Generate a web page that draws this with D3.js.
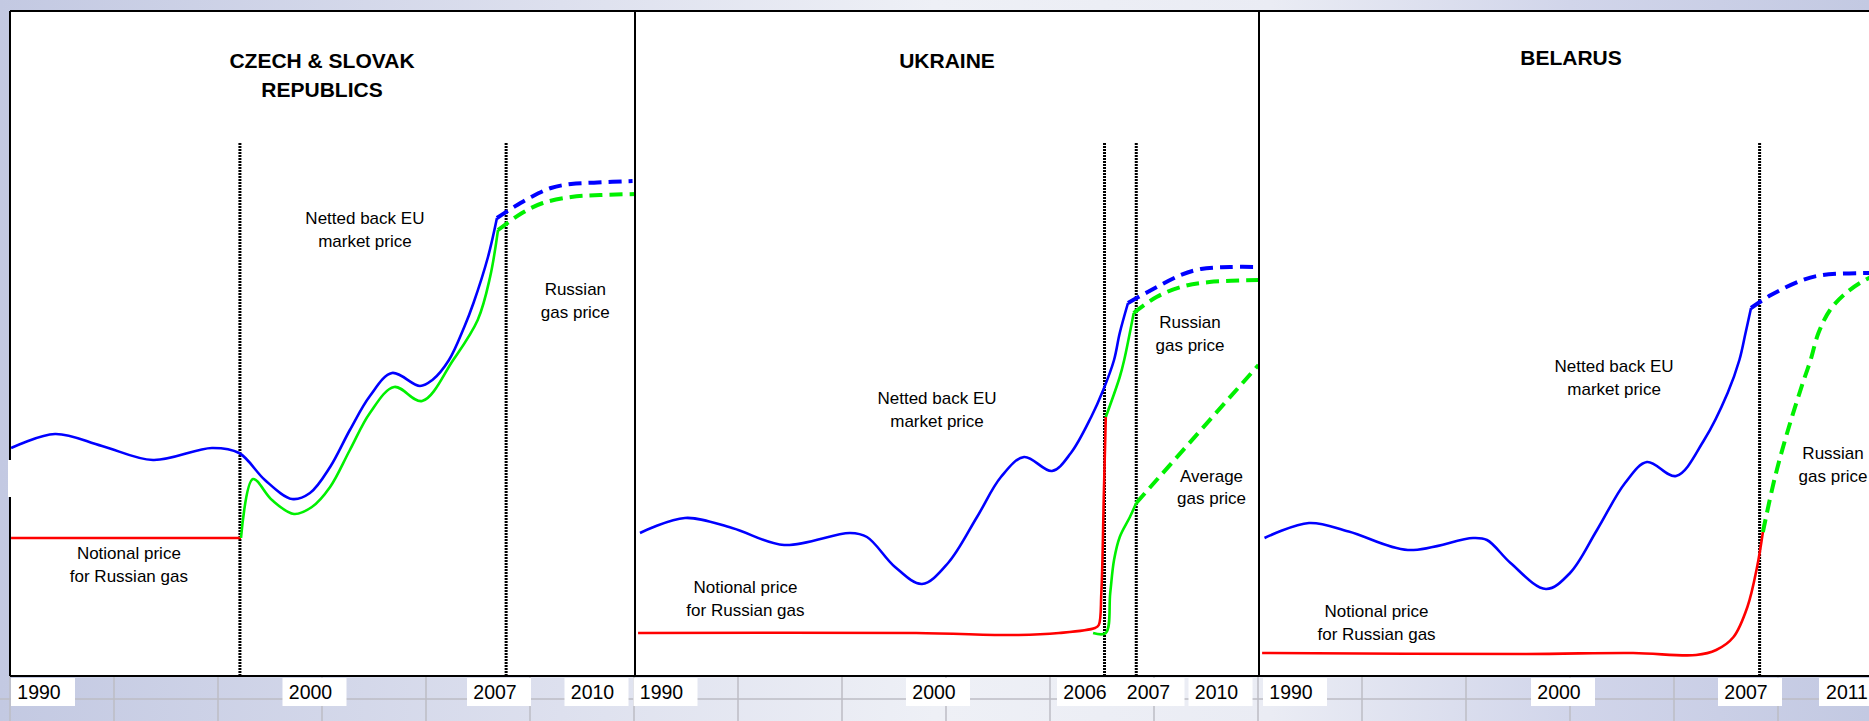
<!DOCTYPE html>
<html lang="en">
<head>
<meta charset="UTF-8">
<title>Russian gas price vs netted back EU price</title>
<style>
  html, body { margin: 0; padding: 0; overflow: hidden; background: #dfe2ef; }
  svg { display: block; font-family: "Liberation Sans", Arial, sans-serif; }
  .title { font-size: 21px; font-weight: bold; text-anchor: middle; fill: #000; }
  .note  { font-size: 17px; text-anchor: middle; fill: #000; }
  .tick  { font-size: 19.5px; text-anchor: middle; fill: #000; }
</style>
<script src="https://d3js.org/d3.v7.min.js"></script>
</head>
<body>
<svg id="chart" width="1869" height="721"></svg>
<script>
// ---- data (year, index value) ----
const titles = [["CZECH & SLOVAK", "REPUBLICS"], ["UKRAINE"], ["BELARUS"]];
const tickYears = [[1990, 2000, 2007, 2010], [1990, 2000, 2006, 2007, 2010], [1990, 2000, 2007, 2011]];
const markerYears = [[1997.29, 2007.25], [2006.26, 2006.76], [2007.42]];

// Czech & Slovak Republics
const czBlue = [[1988.86,45.6],[1990.48,48.4],[1992.21,46.0],[1994.09,43.2],[1996.26,45.6],[1997.26,44.6],
  [1998.21,39.2],[1999.21,35.4],[1999.87,36.6],[2000.63,41.8],[2001.38,49.2],[2002.14,56.0],[2002.98,60.6],
  [2004.04,58.0],[2004.51,59.2],[2005.14,63.2],[2005.72,69.8],[2006.07,74.6],[2006.62,83.8],[2006.96,91.6]];
const czBlueDash = [[2006.96,91.6],[2007.49,93.8],[2008.02,95.8],[2008.63,97.6],[2009.25,98.4],[2010.06,98.7],[2011.14,99.0]];
const czGreen = [[1997.33,27.6],[1997.77,39.4],[1998.47,35.2],[1999.28,32.4],[1999.94,33.8],[2000.63,37.8],
  [2001.38,45.2],[2002.14,52.6],[2003.06,57.8],[2004.12,55.0],[2005.30,63.2],[2006.23,71.2],[2006.70,79.8],[2007.0,89.2]];
const czGreenDash = [[2007.0,89.2],[2007.74,92.6],[2008.38,94.6],[2009.25,95.8],[2010.14,96.2],[2011.28,96.4]];
const czRed = [[1988.86,27.6],[1997.33,27.6]];

// Ukraine
const uaBlue = [[1989.10,28.6],[1990.75,31.6],[1992.48,29.6],[1994.39,26.2],[1996.81,28.6],[1997.43,27.8],
  [1998.46,21.8],[1999.45,18.4],[2000.44,22.6],[2001.59,31.8],[2002.54,39.8],[2003.46,43.8],[2004.57,41.0],
  [2005.32,44.6],[2006.05,51.8],[2006.24,57.2],[2006.41,63.2],[2006.50,68.6],[2006.63,74.6]];
const uaBlueDash = [[2006.63,74.6],[2006.94,76.8],[2008.30,80.2],[2009.18,81.4],[2010.46,81.8],[2011.81,81.8]];
const uaRed = [[1989.03,8.6],[1999.23,8.6],[2003.24,8.2],[2004.85,8.6],[2006.11,9.6],[2006.17,10.2],
  [2006.21,16.6],[2006.25,36.6],[2006.28,51.8]];
const uaAvg = [[2006.08,8.6],[2006.28,8.6],[2006.35,16.6],[2006.41,23.2],[2006.50,27.8],[2006.66,31.8],[2006.76,34.6]];
const uaAvgDash = [[2006.76,34.6],[2011.72,62.2]];
const uaRus = [[2006.28,51.8],[2006.50,59.8],[2006.57,63.2],[2006.72,72.6]];
const uaRusDash = [[2006.72,72.6],[2007.22,75.8],[2008.30,77.8],[2009.56,78.8],[2011.72,79.2]];

// Belarus
const byBlue = [[1988.90,27.6],[1990.56,30.6],[1992.04,28.9],[1994.25,25.2],[1996.68,27.6],[1997.20,27.2],
  [1998.08,22.6],[1999.40,17.4],[2000.30,20.6],[2001.31,29.2],[2002.36,38.6],[2003.18,42.8],[2004.27,40.0],
  [2005.32,47.2],[2006.20,56.6],[2006.64,63.2],[2006.87,68.6],[2007.08,73.6]];
const byBlueDash = [[2007.08,73.6],[2007.87,76.2],[2009.13,79.2],[2009.91,80.2],[2011.75,80.6],[2012.27,80.6]];
const byRed = [[1988.81,4.6],[1998.66,4.4],[2002.66,4.6],[2005.02,4.2],[2005.77,5.2],[2006.42,7.8],
  [2006.94,13.8],[2007.32,21.8],[2007.55,28.8]];
const byRusDash = [[2007.55,28.8],[2008.03,39.8],[2008.58,49.8],[2009.13,58.6],[2009.44,63.2],[2009.75,68.6],
  [2010.21,73.2],[2010.84,76.6],[2011.75,79.6],[2012.27,80.4]];

// annotations: [lines, year, value at first baseline]
const czNotes = [[["Netted back EU", "market price"], 2001.95, 90.4], [["Russian", "gas price"], 2009.38, 76.2],
  [["Notional price", "for Russian gas"], 1993.20, 23.4]];
const uaNotes = [[["Netted back EU", "market price"], 2000.0, 54.4], [["Notional price", "for Russian gas"], 1992.97, 16.6],
  [["Average", "gas price"], 2009.65, 38.9], [["Russian", "gas price"], 2008.70, 69.6]];
const byNotes = [[["Netted back EU", "market price"], 2001.95, 60.8], [["Notional price", "for Russian gas"], 1993.08, 11.8],
  [["Russian", "gas price"], 2010.33, 43.4]];

const seriesByPanel = [
  [[czBlue, "blue"], [czBlueDash, "blueDash"], [czRed, "red"], [czGreen, "green"], [czGreenDash, "greenDash"]],
  [[uaBlue, "blue"], [uaBlueDash, "blueDash"], [uaRed, "red"], [uaAvg, "green"], [uaAvgDash, "greenDash"],
   [uaRus, "green"], [uaRusDash, "greenDash"]],
  [[byBlue, "blue"], [byBlueDash, "blueDash"], [byRed, "red"], [byRusDash, "greenDash"]]
];
const notesByPanel = [czNotes, uaNotes, byNotes];

// ---- layout ----
const W = 1869, H = 721;
const plotTop = 11, plotBottom = 676, panelW = 624;
const panelLeft = [10, 635, 1259];
const tickPos = [[32, 303.5, 488, 585.5], [29.5, 302, 453, 516.5, 584.5], [35, 303, 490, 591]];
const styles = {
  blue:      { stroke: "#0000ff", width: 2.6, dash: null },
  blueDash:  { stroke: "#0000ff", width: 4,   dash: "13,7" },
  green:     { stroke: "#00f000", width: 2.6, dash: null },
  greenDash: { stroke: "#00f000", width: 4,   dash: "13,7" },
  red:       { stroke: "#ff0000", width: 2.6, dash: null }
};

const svg = d3.select("#chart");
const defs = svg.append("defs");

const grad = defs.append("linearGradient").attr("id", "bg").attr("x1", 0).attr("x2", 1).attr("y1", 0).attr("y2", 0);
[[0, "#c3c9e2"], [0.3, "#dde0ee"], [0.5, "#eef0f6"], [0.68, "#eaecf4"], [0.84, "#d1d5ea"], [1, "#c3c9e2"]]
  .forEach(s => grad.append("stop").attr("offset", s[0]).attr("stop-color", s[1]));

svg.append("rect").attr("width", W).attr("height", H).attr("fill", "url(#bg)");

// slide background grid, only visible under the panels
const grid = svg.append("g").attr("stroke", "#bcbcc4").attr("stroke-width", 1.5);
d3.range(10, W, 104).forEach(x => grid.append("line").attr("x1", x).attr("x2", x).attr("y1", plotBottom).attr("y2", H));
grid.append("line").attr("x1", 0).attr("x2", W).attr("y1", 699).attr("y2", 699);

const y = d3.scaleLinear().domain([0, 100]).range([plotBottom, 176]);

panelLeft.forEach((L, i) => {
  const x = d3.scaleLinear().domain(tickYears[i]).range(tickPos[i].map(p => L + p));
  const g = svg.append("g");

  g.append("rect").attr("x", L).attr("y", plotTop).attr("width", panelW).attr("height", plotBottom - plotTop).attr("fill", "#fff");

  defs.append("clipPath").attr("id", "clip" + i)
    .append("rect").attr("x", L).attr("y", plotTop).attr("width", panelW + 3).attr("height", plotBottom - plotTop);

  // title
  const t = g.append("text").attr("class", "title").attr("x", L + panelW / 2).attr("y", i === 2 ? 65 : 68);
  titles[i].forEach((s, k) => t.append("tspan").attr("x", L + panelW / 2).attr("dy", k ? 29 : 0).text(s));

  // dotted event markers
  g.selectAll(".marker").data(markerYears[i]).join("line")
    .attr("x1", d => x(d)).attr("x2", d => x(d))
    .attr("y1", 143).attr("y2", plotBottom)
    .attr("stroke", "#000").attr("stroke-width", 3).attr("stroke-dasharray", "2,1");

  const line = d3.line().x(d => x(d[0])).y(d => y(d[1])).curve(d3.curveCatmullRom.alpha(0.5));
  const lines = g.append("g").attr("clip-path", `url(#clip${i})`).attr("fill", "none");
  seriesByPanel[i].forEach(([data, kind]) => {
    const st = styles[kind];
    lines.append("path").attr("d", line(data))
      .attr("stroke", st.stroke).attr("stroke-width", st.width)
      .attr("stroke-dasharray", st.dash).attr("stroke-linejoin", "round");
  });

  // annotations
  notesByPanel[i].forEach(([txt, yr, v]) => {
    const n = g.append("text").attr("class", "note").attr("x", x(yr)).attr("y", y(v));
    txt.forEach((s, k) => n.append("tspan").attr("x", x(yr)).attr("dy", k ? 22.5 : 0).text(s));
  });

  // year labels in white boxes
  const tk = svg.append("g").selectAll("g").data(tickYears[i]).join("g")
    .attr("transform", d => `translate(${x(d)},0)`);
  tk.append("rect").attr("x", -31).attr("y", 678).attr("width", 64).attr("height", 28).attr("fill", "#fff");
  tk.append("text").attr("class", "tick").attr("x", -3).attr("y", 699).text(d => d);
});

// panel frame
const frame = svg.append("g").attr("stroke", "#000").attr("stroke-width", 2).attr("fill", "none");
frame.append("line").attr("x1", 10).attr("x2", W).attr("y1", plotTop).attr("y2", plotTop);
frame.append("line").attr("x1", 10).attr("x2", W).attr("y1", plotBottom).attr("y2", plotBottom);
[10, 635, 1259].forEach(xx => frame.append("line").attr("x1", xx).attr("x2", xx).attr("y1", plotTop).attr("y2", plotBottom));
// small white gap on the left frame edge
svg.append("rect").attr("x", 8).attr("y", 460).attr("width", 5).attr("height", 37).attr("fill", "#fff");
</script>
</body>
</html>
